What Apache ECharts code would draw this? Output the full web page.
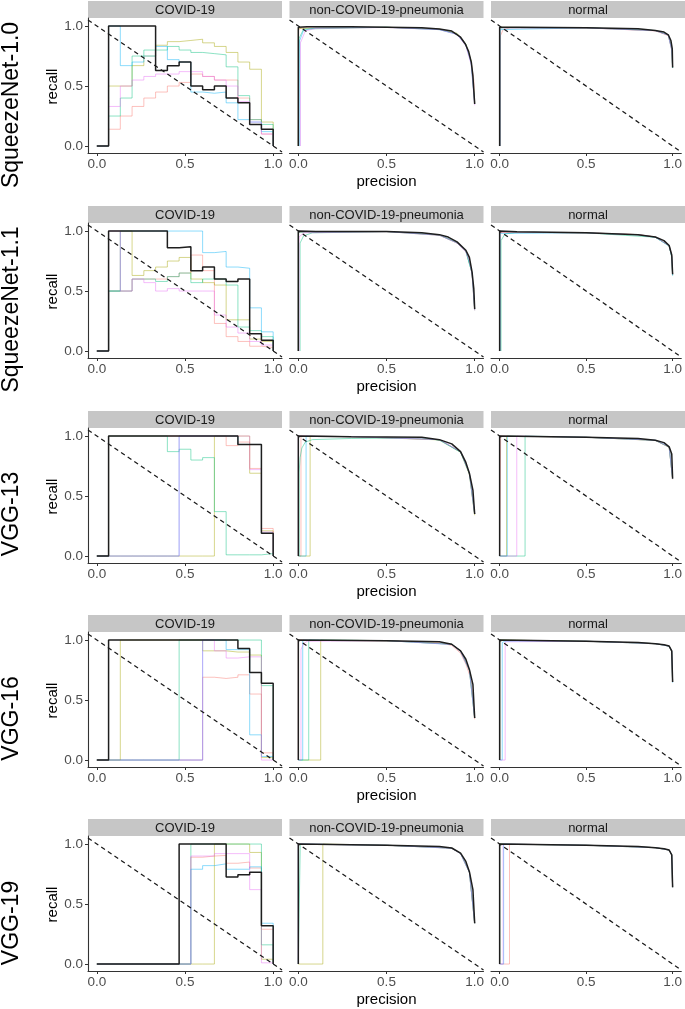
<!DOCTYPE html>
<html>
<head>
<meta charset="utf-8">
<script src="https://cdn.jsdelivr.net/npm/echarts@6/dist/echarts.min.js"></script>
<style>
html,body{margin:0;padding:0;background:#fff;}
#chart{width:685px;height:1009px;}
</style>
</head>
<body>
<div id="chart"></div>
<script>
// ---------------- DATA ----------------
const MODELS = ['SqueezeNet-1.0', 'SqueezeNet-1.1', 'VGG-13', 'VGG-16', 'VGG-19'];
const CLASSES = ['COVID-19', 'non-COVID-19-pneumonia', 'normal'];
const X_TICKS = [0, 0.5, 1.0];
const Y_TICKS = [0, 0.5, 1.0];
const X_TITLE = 'precision';
const Y_TITLE = 'recall';
// step positions of the COVID-19 curves (precision grid)
const STEP_X = [0, 0.0667, 0.1333, 0.2, 0.2667, 0.3333, 0.4, 0.4667, 0.5333, 0.6, 0.6667, 0.7333, 0.8, 0.8667, 0.9333, 1.0];
// diagonal reference line
const DIAG_X = [-0.05, 1.05];
const DIAG_Y = [1.05, -0.05];

// COVID-19 step curves (recall level on each precision step), folds 1..5 and mean
const SQ10_COVID_MEAN = [0,1,1,1,1,0.63,0.67,0.70,0.50,0.47,0.50,0.40,0.36,0.18,0.14,0];
const SQ10_COVID_FOLDS = [
  [0,0.14,0.25,0.33,0.40,0.45,0.50,0.53,0.60,0.58,0.55,0.55,0.40,0.22,0.10,0],
  [0,0.50,0.50,0.67,0.75,0.84,0.87,0.88,0.89,0.86,0.83,0.78,0.70,0.64,0.20,0],
  [0,0.25,0.40,0.75,0.80,0.80,0.83,0.80,0.78,0.77,0.76,0.66,0.42,0.22,0.18,0],
  [0,1.00,0.67,0.70,0.75,0.83,0.72,0.70,0.45,0.44,0.45,0.36,0.22,0.20,0.12,0],
  [0,0.33,0.50,0.55,0.58,0.60,0.60,0.62,0.62,0.58,0.55,0.50,0.37,0.20,0.10,0]
];
const SQ11_COVID_MEAN = [0,1,1,1,1,1,0.86,0.87,0.67,0.70,0.60,0.58,0.60,0.145,0.09,0];
const SQ11_COVID_FOLDS = [
  [0,0.50,0.50,0.60,0.60,0.60,0.62,0.65,0.80,0.67,0.23,0.12,0.08,0.04,0.03,0],
  [0,0.50,1.00,0.63,0.67,0.70,0.75,0.78,0.60,0.57,0.55,0.26,0.26,0.10,0.08,0],
  [0,0.50,0.50,0.60,0.60,0.58,0.62,0.65,0.57,0.60,0.60,0.55,0.20,0.17,0.12,0],
  [0,0.50,1,1,1,1,1,1,1,0.82,0.83,0.70,0.69,0.36,0.16,0],
  [0,1.00,0.50,0.60,0.57,0.50,0.52,0.50,0.50,0.50,0.30,0.20,0.15,0.08,0.05,0]
];
const VGG13_COVID_MEAN = [0,1,1,1,1,1,1,1,1,1,1,1,0.93,0.93,0.19,0];
const VGG13_COVID_FOLDS = [
  [0,1,1,1,1,1,1,1,1,1,1,0.92,0.95,0.73,0.23,0],
  [0,0,0,0,0,0,0,0,0,0,1,1,1,0.69,0.21,0],
  [0,1,1,1,1,1,0.87,0.89,0.80,0.82,0.37,0.01,0.01,0.01,0.02,0],
  [0,0,0,0,0,0,0,1,1,1,1,1,0.93,0.93,0.19,0],
  [0,0,0,0,0,0,0,1,1,1,1,1,1,0.72,0.20,0]
];
const VGG16_COVID_MEAN = [0,1,1,1,1,1,1,1,1,1,1,1,0.93,0.73,0.64,0];
const VGG16_COVID_FOLDS = [
  [0,0,0,0,0,0,0,0,0,0.69,0.68,0.69,0.71,0.55,0.06,0],
  [0,0,1,1,1,1,1,1,1,0.91,0.91,0.90,0.90,0.875,0.02,0],
  [0,0,0,0,0,0,0,1,1,1,1,1,1,1,0.62,0],
  [0,0,0,0,0,0,0,0,0,1,1,0.92,0.92,0.21,0.03,0],
  [0,0,0,0,0,0,0,0,0,1,0.91,0.85,0.86,0.86,0,0]
];
const VGG19_COVID_MEAN = [0,0,0,0,0,0,0,1,1,1,1,0.725,0.745,0.765,0.32,0];
const VGG19_COVID_FOLDS = [
  [0,0,0,0,0,0,0,0,0.89,0.90,0.905,0.84,0.85,0.80,0.29,0],
  [0,0,0,0,0,0,0,0,0,0,1,1,1,0.93,0.04,0],
  [0,0,0,0,0,0,0,0,1,1,1,1,1,1,0.16,0],
  [0,0,0,0,0,0,0,0,0.79,0.82,0.835,0.79,0.79,0.81,0.34,0],
  [0,0,0,0,0,0,0,0,0.90,0.90,0.92,0.92,0.92,0.62,0.01,0]
];

// non-COVID-19-pneumonia / normal curves: [precision, recall] points
const SQ10_PNEU_MEAN = [[0,0],[0,0.99],[0.05,0.995],[0.3,0.995],[0.5,0.99],[0.7,0.985],[0.8,0.975],[0.87,0.958],[0.92,0.907],[0.947,0.85],[0.966,0.787],[0.981,0.697],[0.99,0.584],[1,0.35]];
const SQ10_PNEU_FOLDS = [
  [[0,0],[0,0.97],[0.02,0.985],[0.5,0.99],[0.8,0.972],[0.9,0.935],[0.95,0.845],[0.98,0.70],[0.995,0.55],[1,0.36]],
  [[0,0],[0,0.98],[0.5,0.99],[0.8,0.975],[0.9,0.94],[0.95,0.85],[0.98,0.71],[1,0.36]],
  [[0,0],[0.005,0.9],[0.03,0.975],[0.5,0.99],[0.8,0.97],[0.9,0.935],[0.95,0.85],[0.98,0.70],[1,0.37]],
  [[0.008,0],[0.008,0.88],[0.03,0.965],[0.1,0.985],[0.5,0.99],[0.8,0.97],[0.9,0.93],[0.95,0.84],[0.98,0.69],[1,0.35]],
  [[0.012,0],[0.012,0.86],[0.04,0.96],[0.1,0.98],[0.5,0.988],[0.8,0.97],[0.9,0.93],[0.95,0.835],[0.98,0.68],[1,0.34]]
];
const SQ10_NORM_MEAN = [[0,0],[0,0.99],[0.1,0.99],[0.5,0.985],[0.8,0.977],[0.9,0.963],[0.95,0.95],[0.975,0.927],[0.99,0.88],[0.998,0.81],[1,0.655]];
const SQ10_NORM_FOLDS = [
  [[0.005,0],[0.005,0.92],[0.02,0.97],[0.06,0.985],[0.5,0.985],[0.9,0.96],[0.975,0.92],[0.995,0.80],[1,0.66]],
  [[0,0],[0,0.99],[0.5,0.985],[0.9,0.962],[0.975,0.925],[0.995,0.81],[1,0.65]],
  [[0,0],[0,0.98],[0.03,0.985],[0.5,0.985],[0.9,0.963],[0.975,0.926],[0.995,0.81],[1,0.655]],
  [[0.003,0],[0.003,0.97],[0.5,0.985],[0.9,0.962],[0.975,0.925],[0.995,0.80],[1,0.65]],
  [[0,0],[0,0.985],[0.5,0.984],[0.9,0.961],[0.975,0.924],[0.995,0.80],[1,0.66]]
];
const SQ11_PNEU_MEAN = [[0,0],[0,1.0],[0.1,0.997],[0.5,0.997],[0.7,0.986],[0.8,0.97],[0.85,0.95],[0.9,0.91],[0.95,0.84],[0.97,0.78],[0.985,0.66],[0.995,0.52],[1,0.35]];
const SQ11_PNEU_FOLDS = [
  [[0,0],[0,0.99],[0.5,0.995],[0.8,0.965],[0.9,0.9],[0.95,0.83],[0.97,0.76],[0.985,0.64],[1,0.34]],
  [[0,0],[0,0.99],[0.5,0.996],[0.8,0.968],[0.9,0.905],[0.95,0.835],[0.985,0.65],[1,0.35]],
  [[0.01,0],[0.01,0.9],[0.03,0.96],[0.08,0.985],[0.5,0.995],[0.8,0.965],[0.9,0.9],[0.95,0.83],[0.985,0.65],[1,0.34]],
  [[0,0],[0,0.99],[0.5,0.996],[0.8,0.968],[0.9,0.905],[0.95,0.835],[0.985,0.65],[1,0.35]],
  [[0.004,0],[0.004,0.95],[0.03,0.985],[0.5,0.995],[0.8,0.965],[0.9,0.9],[0.95,0.825],[0.97,0.75],[0.985,0.64],[1,0.34]]
];
const SQ11_NORM_MEAN = [[0,0],[0,1.0],[0.1,0.995],[0.5,0.986],[0.8,0.97],[0.9,0.95],[0.95,0.92],[0.98,0.88],[0.995,0.80],[1,0.64]];
const SQ11_NORM_FOLDS = [
  [[0,0],[0,0.99],[0.5,0.985],[0.8,0.97],[0.9,0.95],[0.98,0.878],[0.995,0.79],[1,0.64]],
  [[0,0],[0,0.99],[0.5,0.985],[0.8,0.97],[0.9,0.95],[0.98,0.878],[0.995,0.79],[1,0.64]],
  [[0.008,0],[0.008,0.92],[0.03,0.975],[0.1,0.99],[0.5,0.985],[0.9,0.948],[0.98,0.875],[0.995,0.78],[1,0.63]],
  [[0.003,0],[0.003,0.98],[0.5,0.985],[0.8,0.968],[0.9,0.948],[0.98,0.876],[0.995,0.785],[1,0.63]],
  [[0,0],[0,0.99],[0.5,0.985],[0.8,0.97],[0.9,0.95],[0.98,0.878],[0.995,0.79],[1,0.64]]
];
const VGG13_PNEU_MEAN = [[0,0],[0,1.0],[0.3,0.995],[0.7,0.99],[0.8,0.97],[0.87,0.935],[0.92,0.87],[0.95,0.78],[0.97,0.69],[0.99,0.55],[1,0.35]];
const VGG13_PNEU_FOLDS = [
  [[0,0],[0.015,0],[0.015,1.0],[0.3,0.995],[0.8,0.97],[0.92,0.87],[0.97,0.69],[1,0.35]],
  [[0,0],[0.067,0],[0.067,1.0],[0.3,0.995],[0.8,0.968],[0.92,0.865],[0.97,0.68],[1,0.34]],
  [[0.005,0],[0.005,0.7],[0.01,0.82],[0.02,0.9],[0.04,0.95],[0.08,0.97],[0.3,0.98],[0.7,0.985],[0.8,0.965],[0.92,0.865],[0.97,0.685],[1,0.35]],
  [[0,0],[0.044,0],[0.044,1.0],[0.3,0.995],[0.8,0.97],[0.92,0.868],[0.97,0.69],[1,0.35]],
  [[0,0],[0,1.0],[0.3,0.995],[0.8,0.97],[0.92,0.87],[0.97,0.69],[1,0.35]]
];
const VGG13_NORM_MEAN = [[0,0],[0,1.0],[0.5,0.99],[0.8,0.98],[0.9,0.965],[0.95,0.945],[0.98,0.91],[0.995,0.85],[1,0.645]];
const VGG13_NORM_FOLDS = [
  [[0,0],[0.006,0],[0.006,1.0],[0.5,0.99],[0.9,0.963],[0.98,0.905],[1,0.64]],
  [[0,0],[0.04,0],[0.04,1.0],[0.5,0.99],[0.9,0.964],[0.98,0.908],[1,0.645]],
  [[0,0],[0.147,0],[0.147,1.0],[0.5,0.99],[0.9,0.964],[0.98,0.908],[1,0.645]],
  [[0,0],[0.044,0],[0.044,1.0],[0.5,0.99],[0.9,0.965],[0.98,0.91],[1,0.645]],
  [[0,0],[0.099,0],[0.099,1.0],[0.5,0.99],[0.9,0.965],[0.98,0.91],[1,0.645]]
];
const VGG16_PNEU_MEAN = [[0,0],[0,1.0],[0.5,0.995],[0.8,0.985],[0.87,0.965],[0.92,0.91],[0.95,0.84],[0.97,0.755],[0.99,0.63],[1,0.35]];
const VGG16_PNEU_FOLDS = [
  [[0,0],[0,1.0],[0.5,0.993],[0.8,0.98],[0.87,0.955],[0.92,0.89],[0.95,0.80],[0.98,0.67],[1,0.34]],
  [[0,0],[0.127,0],[0.127,1.0],[0.5,0.995],[0.87,0.965],[0.92,0.91],[0.97,0.75],[1,0.35]],
  [[0,0],[0.059,0],[0.059,1.0],[0.5,0.995],[0.87,0.965],[0.92,0.91],[0.97,0.75],[1,0.35]],
  [[0,0],[0.025,0],[0.025,1.0],[0.5,0.995],[0.87,0.963],[0.92,0.905],[0.97,0.75],[1,0.35]],
  [[0,0],[0.015,0],[0.015,0.92],[0.03,0.97],[0.05,0.99],[0.5,0.995],[0.87,0.963],[0.92,0.905],[0.97,0.75],[1,0.35]]
];
const VGG16_NORM_MEAN = [[0,0],[0,1.0],[0.5,0.99],[0.8,0.98],[0.9,0.97],[0.95,0.96],[0.98,0.95],[0.995,0.91],[1,0.65]];
const VGG16_NORM_FOLDS = [
  [[0,0],[0,1.0],[0.5,0.99],[0.9,0.97],[0.98,0.95],[0.995,0.90],[1,0.65]],
  [[0,0],[0,1.0],[0.5,0.99],[0.9,0.97],[0.98,0.95],[0.995,0.905],[1,0.65]],
  [[0,0],[0,1.0],[0.5,0.99],[0.9,0.97],[0.98,0.95],[0.995,0.905],[1,0.65]],
  [[0,0],[0.015,0],[0.015,0.98],[0.03,0.99],[0.5,0.99],[0.9,0.97],[0.98,0.948],[0.995,0.905],[1,0.645]],
  [[0,0],[0.032,0],[0.032,0.985],[0.5,0.99],[0.9,0.97],[0.98,0.95],[0.995,0.91],[1,0.65]]
];
const VGG19_PNEU_MEAN = [[0,0],[0,1.0],[0.5,0.99],[0.8,0.98],[0.87,0.967],[0.92,0.925],[0.95,0.855],[0.97,0.77],[0.99,0.62],[1,0.34]];
const VGG19_PNEU_FOLDS = [
  [[0,0],[0,1.0],[0.5,0.99],[0.87,0.965],[0.92,0.92],[0.97,0.765],[1,0.34]],
  [[0,0],[0.139,0],[0.139,1.0],[0.5,0.99],[0.87,0.966],[0.92,0.922],[0.97,0.768],[1,0.34]],
  [[0,0],[0.011,0],[0.011,1.0],[0.5,0.99],[0.87,0.966],[0.92,0.922],[0.97,0.765],[1,0.34]],
  [[0,0],[0,1.0],[0.5,0.99],[0.87,0.965],[0.92,0.92],[0.97,0.765],[1,0.34]],
  [[0,0],[0,1.0],[0.5,0.99],[0.87,0.965],[0.92,0.92],[0.97,0.765],[1,0.34]]
];
const VGG19_NORM_MEAN = [[0,0],[0,1.0],[0.5,0.99],[0.8,0.98],[0.9,0.97],[0.95,0.96],[0.98,0.95],[0.995,0.91],[1,0.64]];
const VGG19_NORM_FOLDS = [
  [[0,0],[0.057,0],[0.057,1.0],[0.5,0.99],[0.9,0.97],[0.98,0.95],[0.995,0.91],[1,0.64]],
  [[0,0],[0,1.0],[0.5,0.99],[0.9,0.97],[0.98,0.95],[0.995,0.91],[1,0.64]],
  [[0,0],[0,1.0],[0.5,0.99],[0.9,0.97],[0.98,0.95],[0.995,0.91],[1,0.64]],
  [[0,0],[0.023,0],[0.023,1.0],[0.5,0.99],[0.9,0.97],[0.98,0.95],[0.995,0.91],[1,0.64]],
  [[0,0],[0.02,0],[0.02,1.0],[0.5,0.99],[0.9,0.97],[0.98,0.95],[0.995,0.91],[1,0.64]]
];

// ---------------- LAYOUT / STYLE ----------------
const FOLD_COLORS = ['#F8766D', '#A3A500', '#00BF7D', '#00B0F6', '#E76BF3'];
const FONT = '"Liberation Sans", Arial, Helvetica, sans-serif';
const PANEL_LEFT = [88, 289.5, 491];
const PANEL_W = 194;
const PANEL_TOP = [18, 223, 428, 632, 836];
const PANEL_H = 135;
const STRIP_H = 17;
const X_MIN = -0.05, X_MAX = 1.05;
const Y_MIN = -0.058, Y_MAX = 1.067;

const PANELS = [
  [[SQ10_COVID_MEAN, SQ10_COVID_FOLDS], [SQ10_PNEU_MEAN, SQ10_PNEU_FOLDS], [SQ10_NORM_MEAN, SQ10_NORM_FOLDS]],
  [[SQ11_COVID_MEAN, SQ11_COVID_FOLDS], [SQ11_PNEU_MEAN, SQ11_PNEU_FOLDS], [SQ11_NORM_MEAN, SQ11_NORM_FOLDS]],
  [[VGG13_COVID_MEAN, VGG13_COVID_FOLDS], [VGG13_PNEU_MEAN, VGG13_PNEU_FOLDS], [VGG13_NORM_MEAN, VGG13_NORM_FOLDS]],
  [[VGG16_COVID_MEAN, VGG16_COVID_FOLDS], [VGG16_PNEU_MEAN, VGG16_PNEU_FOLDS], [VGG16_NORM_MEAN, VGG16_NORM_FOLDS]],
  [[VGG19_COVID_MEAN, VGG19_COVID_FOLDS], [VGG19_PNEU_MEAN, VGG19_PNEU_FOLDS], [VGG19_NORM_MEAN, VGG19_NORM_FOLDS]]
];

const grids = [], xAxes = [], yAxes = [], series = [], graphics = [];
const fmt = v => v.toFixed(1);
const axisColor = '#333333';
const labelColor = '#4d4d4d';

MODELS.forEach((model, r) => {
  CLASSES.forEach((cls, c) => {
    const idx = r * 3 + c;
    grids.push({ left: PANEL_LEFT[c], top: PANEL_TOP[r], width: PANEL_W, height: PANEL_H, containLabel: false });
    xAxes.push({
      gridIndex: idx, type: 'value', min: X_MIN, max: X_MAX, position: 'bottom',
      axisLine: { show: true, onZero: false, lineStyle: { color: axisColor, width: 1.1 } },
      axisTick: { show: true, length: 3, customValues: X_TICKS, lineStyle: { color: axisColor } },
      axisLabel: { customValues: X_TICKS, formatter: fmt, margin: 4, color: labelColor, fontSize: 13.5, fontFamily: FONT },
      splitLine: { show: false }
    });
    yAxes.push({
      gridIndex: idx, type: 'value', min: Y_MIN, max: Y_MAX, show: c === 0, position: 'left',
      axisLine: { show: true, onZero: false, lineStyle: { color: axisColor, width: 1.1 } },
      axisTick: { show: true, length: 3, customValues: Y_TICKS, lineStyle: { color: axisColor } },
      axisLabel: { customValues: Y_TICKS, formatter: fmt, margin: 5, color: labelColor, fontSize: 13.5, fontFamily: FONT },
      splitLine: { show: false }
    });
    const [mean, folds] = PANELS[r][c];
    const isStep = c === 0;
    const toPts = arr => isStep ? STEP_X.map((x, i) => [x, arr[i]]) : arr;
    folds.forEach((f, k) => {
      series.push({
        type: 'line', xAxisIndex: idx, yAxisIndex: idx, data: toPts(f),
        step: isStep ? 'end' : false, showSymbol: false, symbol: 'none', silent: true, clip: true,
        lineStyle: { color: FOLD_COLORS[k], width: 1, opacity: 0.45 }, z: 2
      });
    });
    series.push({
      type: 'line', xAxisIndex: idx, yAxisIndex: idx, data: toPts(mean),
      step: isStep ? 'end' : false, showSymbol: false, symbol: 'none', silent: true, clip: true,
      lineStyle: { color: '#1e1e1e', width: 1.5 }, z: 3
    });
    series.push({
      type: 'line', xAxisIndex: idx, yAxisIndex: idx, data: DIAG_X.map((x, i) => [x, DIAG_Y[i]]),
      showSymbol: false, symbol: 'none', silent: true, clip: true,
      lineStyle: { color: '#1a1a1a', width: 1.25, type: [4.5, 3.5] }, z: 4
    });
    // strip
    graphics.push({
      type: 'rect', shape: { x: PANEL_LEFT[c], y: PANEL_TOP[r] - STRIP_H, width: PANEL_W, height: STRIP_H },
      style: { fill: '#c6c6c6' }, silent: true
    });
    graphics.push({
      type: 'text', x: PANEL_LEFT[c] + PANEL_W / 2, y: PANEL_TOP[r] - STRIP_H / 2 + 0.5,
      style: { text: cls, font: '13px ' + FONT, fill: '#1a1a1a', align: 'center', verticalAlign: 'middle', textAlign: 'center', textVerticalAlign: 'middle' },
      silent: true
    });
  });
  // row label
  graphics.push({
    type: 'text', x: 12, y: 105 + 204.5 * r, rotation: Math.PI / 2,
    style: { text: model, font: '23px ' + FONT, fill: '#000', align: 'center', verticalAlign: 'middle', textAlign: 'center', textVerticalAlign: 'middle' },
    silent: true
  });
  // y title
  graphics.push({
    type: 'text', x: 53, y: PANEL_TOP[r] + PANEL_H / 2 + 1, rotation: Math.PI / 2,
    style: { text: Y_TITLE, font: '15px ' + FONT, fill: '#000', align: 'center', verticalAlign: 'middle', textAlign: 'center', textVerticalAlign: 'middle' },
    silent: true
  });
  // x title
  graphics.push({
    type: 'text', x: (PANEL_LEFT[0] + PANEL_LEFT[2] + PANEL_W) / 2, y: PANEL_TOP[r] + PANEL_H + 29,
    style: { text: X_TITLE, font: '15px ' + FONT, fill: '#000', align: 'center', verticalAlign: 'middle', textAlign: 'center', textVerticalAlign: 'middle' },
    silent: true
  });
});

const chart = echarts.init(document.getElementById('chart'), null, { renderer: 'canvas' });
chart.setOption({
  animation: false,
  backgroundColor: '#ffffff',
  grid: grids,
  xAxis: xAxes,
  yAxis: yAxes,
  series: series,
  graphic: { elements: graphics }
});
</script>
</body>
</html>
